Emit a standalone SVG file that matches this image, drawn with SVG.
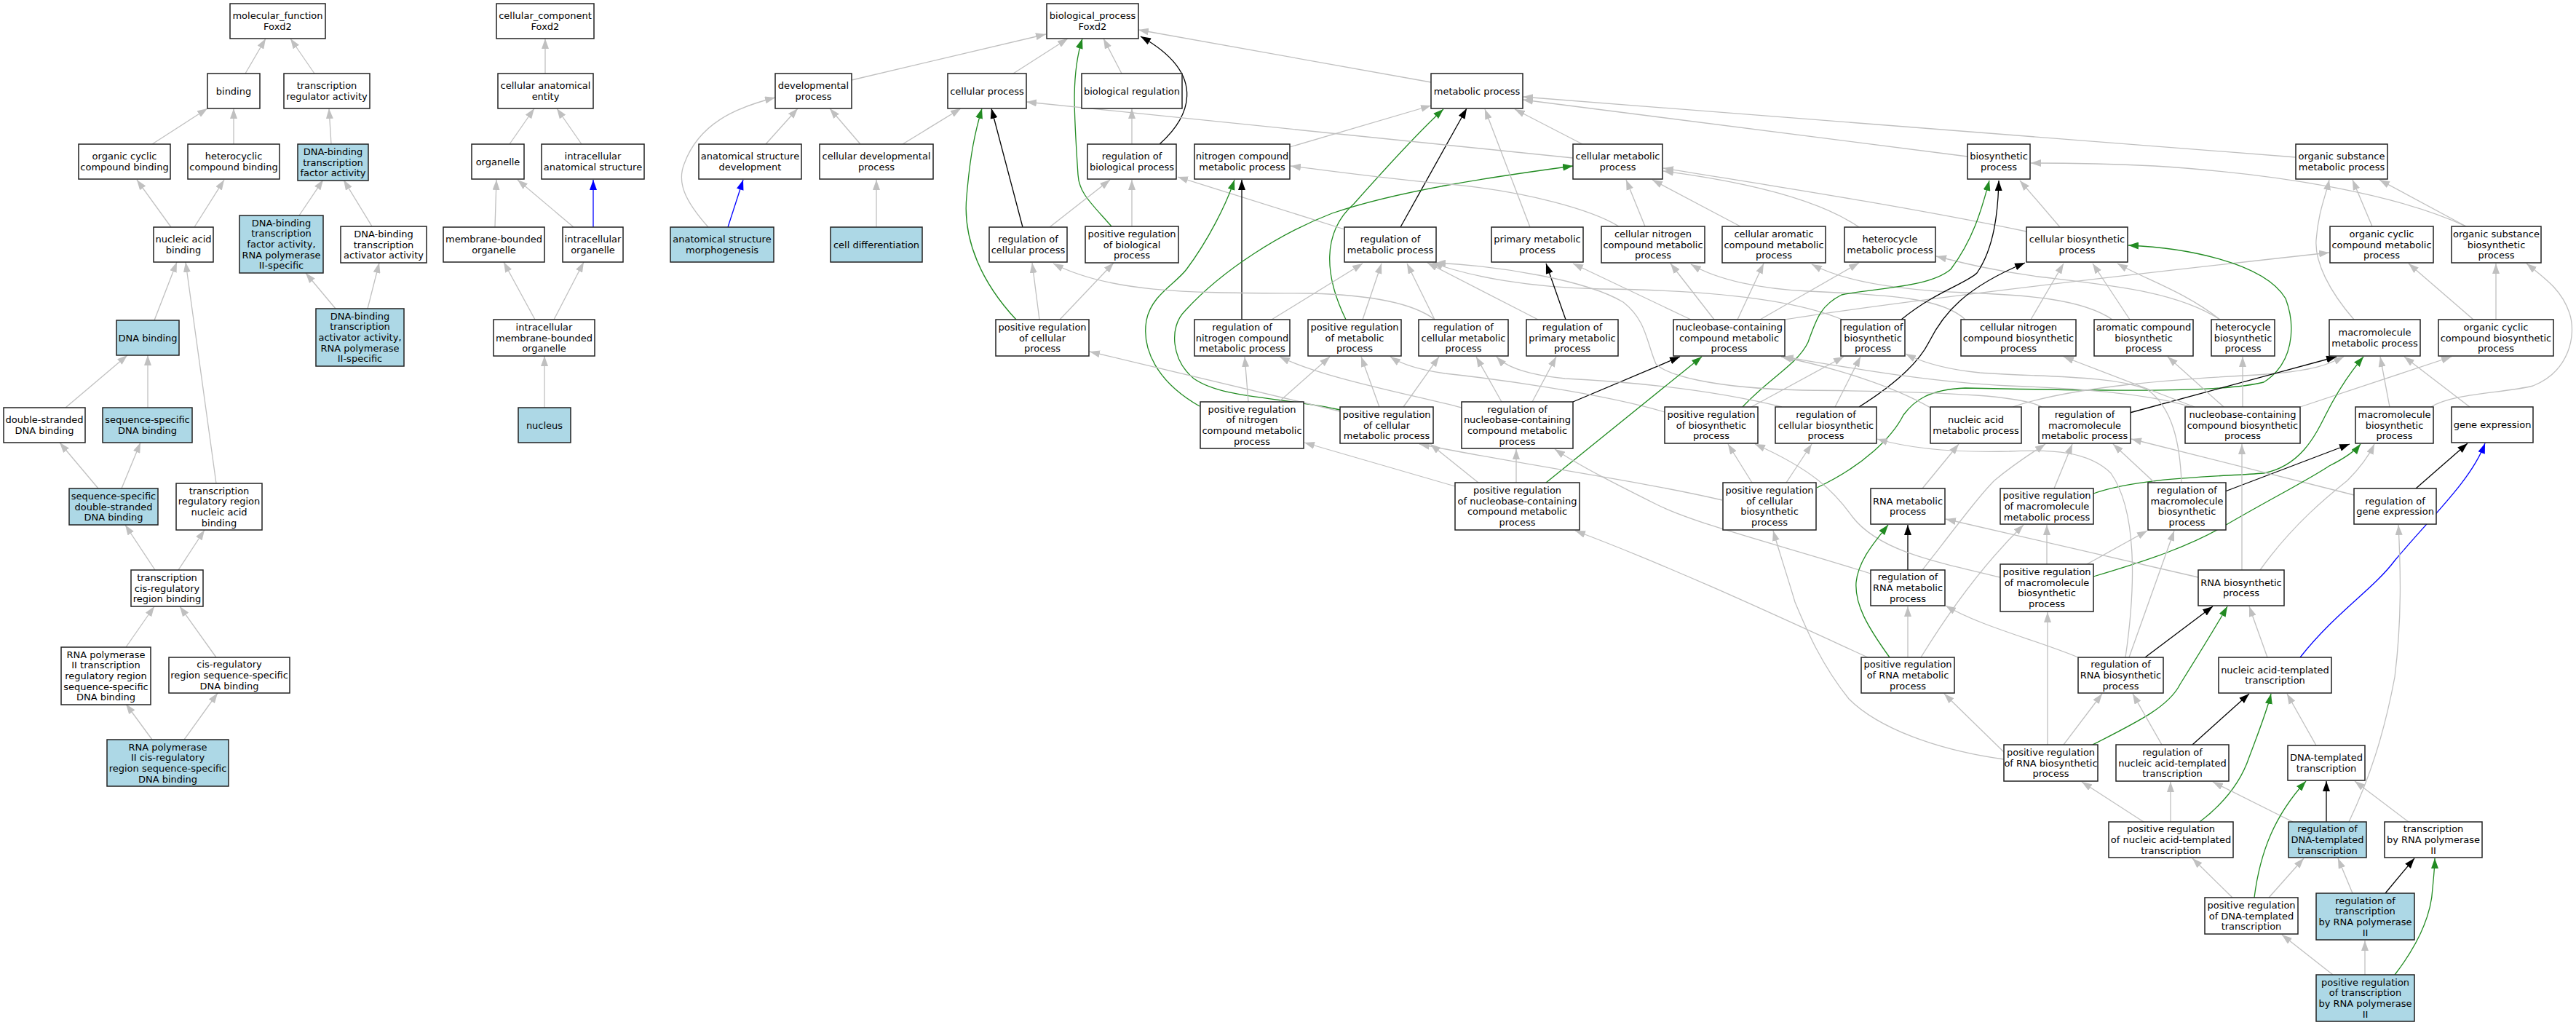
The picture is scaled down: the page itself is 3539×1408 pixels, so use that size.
<svg xmlns="http://www.w3.org/2000/svg" width="3539" height="1408" viewBox="0 0 3539 1408">
<style>
.node rect{fill:#ffffff;stroke:#222222;stroke-width:1.5}
.node.hl rect{fill:#add8e6}
text{font-family:"DejaVu Sans",Verdana,sans-serif;font-size:13px;text-anchor:middle;fill:#000000}
.e{fill:none;stroke-width:1.3}
.g{stroke:#c0c0c0;marker-end:url(#ag)}
.k{stroke:#000000;marker-end:url(#ak)}
.f{stroke:#228b22;marker-end:url(#af)}
.b{stroke:#0000ff;marker-end:url(#ab)}
</style>
<defs>
<marker id="ag" viewBox="0 0 14 10" refX="14" refY="5" markerWidth="14" markerHeight="10" markerUnits="userSpaceOnUse" orient="auto"><path d="M0,0L14,5L0,10z" fill="#c0c0c0"/></marker>
<marker id="ak" viewBox="0 0 14 10" refX="14" refY="5" markerWidth="14" markerHeight="10" markerUnits="userSpaceOnUse" orient="auto"><path d="M0,0L14,5L0,10z" fill="#000000"/></marker>
<marker id="af" viewBox="0 0 14 10" refX="14" refY="5" markerWidth="14" markerHeight="10" markerUnits="userSpaceOnUse" orient="auto"><path d="M0,0L14,5L0,10z" fill="#228b22"/></marker>
<marker id="ab" viewBox="0 0 14 10" refX="14" refY="5" markerWidth="14" markerHeight="10" markerUnits="userSpaceOnUse" orient="auto"><path d="M0,0L14,5L0,10z" fill="#0000ff"/></marker>
</defs>
<rect x="0" y="0" width="3539" height="1408" fill="#ffffff"/>
<g id="edges">
<path class="e g" d="M337,101L365,53"/>
<path class="e g" d="M432,101L399,53"/>
<path class="e g" d="M209,198L285,149"/>
<path class="e g" d="M321,198L321,149"/>
<path class="e g" d="M455,198L452,149"/>
<path class="e g" d="M235,312L188,247"/>
<path class="e g" d="M267,312L308,247"/>
<path class="e g" d="M411,296L444,247"/>
<path class="e g" d="M511,311L472,247"/>
<path class="e g" d="M212,440L243,360"/>
<path class="e g" d="M297,664L255,360"/>
<path class="e g" d="M461,424L420,375"/>
<path class="e g" d="M505,424L521,361"/>
<path class="e g" d="M90,560L175,488"/>
<path class="e g" d="M203,560L203,488"/>
<path class="e g" d="M135,671L82,608"/>
<path class="e g" d="M167,671L193,608"/>
<path class="e g" d="M213,783L172,721"/>
<path class="e g" d="M245,783L281,728"/>
<path class="e g" d="M173,889L212,833"/>
<path class="e g" d="M297,903L247,833"/>
<path class="e g" d="M209,1016L173,967"/>
<path class="e g" d="M253,1016L299,952"/>
<path class="e g" d="M749,101L749,53"/>
<path class="e g" d="M700,198L734,149"/>
<path class="e g" d="M799,198L765,149"/>
<path class="e g" d="M680,312L682,247"/>
<path class="e g" d="M788,312L711,247"/>
<path class="e b" d="M815,312L815,247"/>
<path class="e g" d="M735,439L692,360"/>
<path class="e g" d="M761,439L802,360"/>
<path class="e g" d="M748,560L748,489"/>
<path class="e g" d="M1170,110L1437,47"/>
<path class="e g" d="M1052,198L1096,149"/>
<path class="e g" d="M1182,198L1140,149"/>
<path class="e g" d="M973,312C940,275 930,250 940,225C960,170 1010,148 1065,134"/>
<path class="e b" d="M1000,312L1021,247"/>
<path class="e g" d="M1204,312L1204,247"/>
<path class="e g" d="M1392,101L1467,53"/>
<path class="e g" d="M1240,198L1320,149"/>
<path class="e g" d="M1541,101L1516,53"/>
<path class="e g" d="M1966,113L1564,41"/>
<path class="e k" d="M1593,198C1630,165 1665,105 1567,50"/>
<path class="e g" d="M1555,198L1555,149"/>
<path class="e f" d="M1527,311C1500,280 1482,265 1481,240C1475,150 1472,100 1487,53"/>
<path class="e g" d="M1555,311L1555,247"/>
<path class="e k" d="M1405,312L1362,149"/>
<path class="e g" d="M1442,312L1525,247"/>
<path class="e f" d="M1396,439C1350,390 1322,330 1328,270C1333,210 1340,180 1349,149"/>
<path class="e g" d="M1428,439L1418,361"/>
<path class="e g" d="M1456,439L1530,361"/>
<path class="e g" d="M1772,202L1966,145"/>
<path class="e f" d="M1849,439C1820,380 1815,320 1860,280C1900,235 1950,180 1983,150"/>
<path class="e k" d="M1924,312L2015,149"/>
<path class="e g" d="M1847,315L1618,243"/>
<path class="e g" d="M2161,217L1410,140"/>
<path class="e k" d="M1706,439L1706,247"/>
<path class="e f" d="M1648,558C1590,525 1568,480 1575,440C1582,405 1615,390 1630,370C1660,330 1685,280 1696,247"/>
<path class="e f" d="M1841,563C1760,545 1680,548 1640,520C1610,495 1605,450 1628,427C1680,370 1760,320 1830,293C1920,262 2050,243 2161,228"/>
<path class="e g" d="M1747,439L1872,362"/>
<path class="e g" d="M1872,439L1898,362"/>
<path class="e g" d="M1971,439L1933,362"/>
<path class="e g" d="M2113,439L1961,361"/>
<path class="e g" d="M2531,439C2450,405 2300,398 2200,397C2100,395 2020,380 1968,361"/>
<path class="e g" d="M2224,311C2190,290 2100,262 1980,252C1900,245 1830,235 1773,228"/>
<path class="e g" d="M1971,439C1940,415 1880,405 1800,403C1650,402 1530,405 1447,362"/>
<path class="e g" d="M2102,312L2040,150"/>
<path class="e g" d="M2174,198L2081,150"/>
<path class="e g" d="M3154,216L2092,133"/>
<path class="e g" d="M2703,215L2092,137"/>
<path class="e g" d="M2260,311L2234,247"/>
<path class="e g" d="M2391,311L2270,247"/>
<path class="e g" d="M2554,312C2500,275 2400,250 2285,235"/>
<path class="e g" d="M2784,318C2600,280 2400,250 2285,231"/>
<path class="e k" d="M2151,439L2124,362"/>
<path class="e g" d="M2323,439L2161,362"/>
<path class="e g" d="M2355,439L2295,362"/>
<path class="e g" d="M2387,439L2423,362"/>
<path class="e g" d="M2418,439L2554,361"/>
<path class="e g" d="M2452,439C2600,415 2900,380 3200,347"/>
<path class="e g" d="M2700,439C2670,410 2600,405 2484,400C2420,397 2360,385 2323,363"/>
<path class="e g" d="M2902,439C2860,410 2780,405 2700,402C2600,398 2530,385 2489,363"/>
<path class="e g" d="M3050,439C2990,400 2900,392 2800,380C2740,372 2700,362 2660,352"/>
<path class="e k" d="M2612,439C2660,400 2700,390 2716,375C2740,340 2745,290 2746,248"/>
<path class="e f" d="M2394,559C2430,520 2470,500 2484,470C2495,440 2500,420 2530,405C2580,395 2650,395 2680,370C2710,330 2722,290 2733,248"/>
<path class="e k" d="M2554,559C2600,530 2635,500 2650,470C2670,430 2700,395 2782,361"/>
<path class="e g" d="M2830,312L2775,248"/>
<path class="e g" d="M3388,311C3300,270 3150,240 2960,228C2880,224 2830,224 2790,224"/>
<path class="e g" d="M2790,439L2835,362"/>
<path class="e g" d="M2926,439L2875,362"/>
<path class="e g" d="M3050,439C3000,400 2950,385 2909,362"/>
<path class="e f" d="M2496,670C2560,640 2600,600 2615,570C2630,550 2650,535 2700,533C2900,537 3050,540 3110,525C3150,500 3155,450 3140,410C3110,360 3000,340 2924,337"/>
<path class="e g" d="M3259,311L3232,247"/>
<path class="e g" d="M3388,311L3269,247"/>
<path class="e g" d="M3234,439C3200,400 3180,360 3182,330C3185,290 3195,270 3200,247"/>
<path class="e g" d="M3398,439L3309,362"/>
<path class="e g" d="M3429,439L3429,362"/>
<path class="e g" d="M3340,559C3370,540 3440,540 3480,530C3530,510 3540,460 3530,430C3520,400 3500,385 3471,362"/>
<path class="e g" d="M1895,559L1870,490"/>
<path class="e g" d="M1928,559L1977,490"/>
<path class="e g" d="M1841,565L1497,483"/>
<path class="e g" d="M1715,552L1710,490"/>
<path class="e g" d="M1757,552L1827,490"/>
<path class="e k" d="M2161,552L2308,490"/>
<path class="e g" d="M2063,552L2028,490"/>
<path class="e g" d="M2105,552L2138,490"/>
<path class="e g" d="M2008,560C1930,540 1820,520 1758,490"/>
<path class="e g" d="M2287,566C2200,540 2050,520 1985,513C1950,508 1925,500 1910,490"/>
<path class="e g" d="M2406,559L2533,490"/>
<path class="e g" d="M2521,559L2556,490"/>
<path class="e g" d="M2448,559C2350,535 2250,525 2150,520C2100,515 2070,505 2056,490"/>
<path class="e g" d="M2652,560C2600,530 2520,505 2447,490"/>
<path class="e g" d="M2765,559C2850,530 3000,520 3100,515C3180,510 3200,500 3220,490"/>
<path class="e k" d="M2926,567L3210,490"/>
<path class="e g" d="M2805,559C2780,545 2700,538 2476,536C2350,533 2290,515 2275,500C2262,470 2262,440 2230,415C2180,385 2060,365 1972,361"/>
<path class="e g" d="M3010,559C2950,540 2850,533 2760,530C2650,525 2540,505 2450,490"/>
<path class="e g" d="M3015,559L2835,490"/>
<path class="e g" d="M3055,559L2978,490"/>
<path class="e g" d="M3081,559L3081,490"/>
<path class="e g" d="M3160,559L3368,490"/>
<path class="e g" d="M3283,559L3270,490"/>
<path class="e g" d="M3393,559L3303,490"/>
<path class="e g" d="M1999,668L1792,608"/>
<path class="e g" d="M2031,663L1965,610"/>
<path class="e g" d="M2083,663L2083,617"/>
<path class="e f" d="M2124,663L2338,490"/>
<path class="e g" d="M2366,687C2250,660 2100,640 1950,610"/>
<path class="e g" d="M2407,663L2374,610"/>
<path class="e g" d="M2454,663L2489,610"/>
<path class="e g" d="M2641,671L2691,610"/>
<path class="e f" d="M2876,678C2940,655 3050,655 3110,650C3160,640 3180,600 3195,570C3210,540 3230,510 3247,490"/>
<path class="e g" d="M2822,671L2847,610"/>
<path class="e g" d="M2960,663L2903,610"/>
<path class="e k" d="M3057,675L3228,610"/>
<path class="e g" d="M2997,663C2995,610 2985,560 2950,535C2900,515 2800,518 2720,512C2680,508 2645,500 2618,486"/>
<path class="e g" d="M3234,680L2928,603"/>
<path class="e k" d="M3319,671L3390,609"/>
<path class="e k" d="M2621,783L2621,721"/>
<path class="e g" d="M2570,788C2450,750 2330,720 2276,693C2220,665 2170,640 2136,617"/>
<path class="e g" d="M2641,783C2690,720 2720,680 2740,660C2770,635 2795,620 2810,610"/>
<path class="e g" d="M2812,775L2812,721"/>
<path class="e g" d="M2867,775L2950,729"/>
<path class="e f" d="M2876,792C2950,770 3010,750 3060,720C3120,685 3170,660 3200,640C3220,630 3235,620 3243,610"/>
<path class="e g" d="M2748,793C2650,770 2580,755 2545,710C2520,675 2490,645 2411,610"/>
<path class="e g" d="M3020,793L2673,713"/>
<path class="e g" d="M3080,783L3080,610"/>
<path class="e g" d="M3105,783C3150,720 3200,680 3225,660C3245,640 3255,625 3262,610"/>
<path class="e f" d="M2596,903C2565,860 2548,830 2550,800C2553,770 2575,745 2594,721"/>
<path class="e g" d="M2566,903C2450,850 2300,780 2164,729"/>
<path class="e g" d="M2621,903L2621,833"/>
<path class="e g" d="M2639,903C2690,820 2740,760 2780,721"/>
<path class="e g" d="M2855,903C2800,880 2720,860 2673,832"/>
<path class="e k" d="M2947,903L3040,833"/>
<path class="e g" d="M2925,903L2987,729"/>
<path class="e g" d="M2920,903C2935,800 2935,700 2900,650C2870,620 2820,617 2760,620C2680,622 2620,615 2579,603"/>
<path class="e g" d="M3115,903L3090,833"/>
<path class="e b" d="M3160,903C3210,840 3260,810 3290,770C3340,710 3395,660 3414,609"/>
<path class="e g" d="M2813,1023L2813,841"/>
<path class="e g" d="M2755,1035L2671,953"/>
<path class="e g" d="M2753,1043C2660,1030 2580,1000 2540,960C2500,910 2480,860 2466,827C2455,790 2445,760 2436,729"/>
<path class="e g" d="M2835,1023L2888,953"/>
<path class="e f" d="M2875,1023C2940,990 2980,970 2995,940C3020,900 3045,860 3060,833"/>
<path class="e g" d="M2970,1023L2930,953"/>
<path class="e k" d="M3012,1023L3090,953"/>
<path class="e g" d="M3182,1024L3142,953"/>
<path class="e g" d="M2945,1129L2860,1074"/>
<path class="e g" d="M2982,1129L2982,1074"/>
<path class="e f" d="M3022,1129C3060,1100 3080,1070 3090,1040C3105,1000 3115,975 3120,953"/>
<path class="e g" d="M3150,1129L3040,1074"/>
<path class="e k" d="M3196,1129L3196,1073"/>
<path class="e g" d="M3227,1129C3255,1070 3275,1010 3290,930C3300,850 3298,780 3295,721"/>
<path class="e g" d="M3309,1129L3235,1073"/>
<path class="e g" d="M3067,1233L3012,1179"/>
<path class="e g" d="M3117,1233L3165,1179"/>
<path class="e f" d="M3097,1233C3105,1170 3125,1120 3168,1073"/>
<path class="e k" d="M3277,1227L3317,1179"/>
<path class="e g" d="M3232,1227L3212,1179"/>
<path class="e g" d="M3205,1339L3135,1284"/>
<path class="e g" d="M3249,1339L3249,1292"/>
<path class="e f" d="M3290,1339C3320,1300 3340,1260 3342,1220C3344,1200 3345,1190 3345,1179"/>
</g>
<g id="n_mf" class="node"><rect x="316" y="5" width="131" height="48"/><text x="381.5" y="26.2">molecular_function<tspan x="381.5" dy="14.7">Foxd2</tspan></text></g>
<g id="n_binding" class="node"><rect x="285" y="101" width="72" height="48"/><text x="321" y="129.5">binding</text></g>
<g id="n_tra" class="node"><rect x="390" y="101" width="118" height="48"/><text x="449" y="122.2">transcription<tspan x="449" dy="14.7">regulator activity</tspan></text></g>
<g id="n_occb" class="node"><rect x="108" y="198" width="126" height="48"/><text x="171" y="219.2">organic cyclic<tspan x="171" dy="14.7">compound binding</tspan></text></g>
<g id="n_hcb" class="node"><rect x="258" y="198" width="126" height="48"/><text x="321" y="219.2">heterocyclic<tspan x="321" dy="14.7">compound binding</tspan></text></g>
<g id="n_dbtfa" class="node hl"><rect x="409" y="198" width="97" height="50"/><text x="457.5" y="212.8">DNA-binding<tspan x="457.5" dy="14.7">transcription</tspan><tspan x="457.5" dy="14.7">factor activity</tspan></text></g>
<g id="n_nab" class="node"><rect x="211" y="312" width="82" height="48"/><text x="252" y="333.2">nucleic acid<tspan x="252" dy="14.7">binding</tspan></text></g>
<g id="n_dbtf2" class="node hl"><rect x="329" y="296" width="115" height="79"/><text x="386.5" y="310.6">DNA-binding<tspan x="386.5" dy="14.7">transcription</tspan><tspan x="386.5" dy="14.7">factor activity,</tspan><tspan x="386.5" dy="14.7">RNA polymerase</tspan><tspan x="386.5" dy="14.7">II-specific</tspan></text></g>
<g id="n_dbta" class="node"><rect x="468" y="311" width="118" height="50"/><text x="527" y="325.8">DNA-binding<tspan x="527" dy="14.7">transcription</tspan><tspan x="527" dy="14.7">activator activity</tspan></text></g>
<g id="n_dnab" class="node hl"><rect x="160" y="440" width="86" height="48"/><text x="203" y="468.5">DNA binding</text></g>
<g id="n_dbta2" class="node hl"><rect x="434" y="424" width="121" height="79"/><text x="494.5" y="438.6">DNA-binding<tspan x="494.5" dy="14.7">transcription</tspan><tspan x="494.5" dy="14.7">activator activity,</tspan><tspan x="494.5" dy="14.7">RNA polymerase</tspan><tspan x="494.5" dy="14.7">II-specific</tspan></text></g>
<g id="n_dsdb" class="node"><rect x="5" y="560" width="112" height="48"/><text x="61" y="581.2">double-stranded<tspan x="61" dy="14.7">DNA binding</tspan></text></g>
<g id="n_ssdb" class="node hl"><rect x="141" y="560" width="123" height="48"/><text x="202.5" y="581.2">sequence-specific<tspan x="202.5" dy="14.7">DNA binding</tspan></text></g>
<g id="n_ssdsdb" class="node hl"><rect x="95" y="671" width="122" height="50"/><text x="156" y="685.8">sequence-specific<tspan x="156" dy="14.7">double-stranded</tspan><tspan x="156" dy="14.7">DNA binding</tspan></text></g>
<g id="n_trrnab" class="node"><rect x="242" y="664" width="118" height="64"/><text x="301" y="678.5">transcription<tspan x="301" dy="14.7">regulatory region</tspan><tspan x="301" dy="14.7">nucleic acid</tspan><tspan x="301" dy="14.7">binding</tspan></text></g>
<g id="n_tcrrb" class="node"><rect x="180" y="783" width="99" height="50"/><text x="229.5" y="797.8">transcription<tspan x="229.5" dy="14.7">cis-regulatory</tspan><tspan x="229.5" dy="14.7">region binding</tspan></text></g>
<g id="n_rp2trr" class="node"><rect x="84" y="889" width="123" height="79"/><text x="145.5" y="903.6">RNA polymerase<tspan x="145.5" dy="14.7">II transcription</tspan><tspan x="145.5" dy="14.7">regulatory region</tspan><tspan x="145.5" dy="14.7">sequence-specific</tspan><tspan x="145.5" dy="14.7">DNA binding</tspan></text></g>
<g id="n_crrss" class="node"><rect x="232" y="903" width="166" height="49"/><text x="315" y="917.3">cis-regulatory<tspan x="315" dy="14.7">region sequence-specific</tspan><tspan x="315" dy="14.7">DNA binding</tspan></text></g>
<g id="n_rp2crr" class="node hl"><rect x="147" y="1016" width="167" height="64"/><text x="230.5" y="1030.5">RNA polymerase<tspan x="230.5" dy="14.7">II cis-regulatory</tspan><tspan x="230.5" dy="14.7">region sequence-specific</tspan><tspan x="230.5" dy="14.7">DNA binding</tspan></text></g>
<g id="n_cc" class="node"><rect x="682" y="5" width="134" height="48"/><text x="749" y="26.2">cellular_component<tspan x="749" dy="14.7">Foxd2</tspan></text></g>
<g id="n_cae" class="node"><rect x="684" y="101" width="131" height="48"/><text x="749.5" y="122.2">cellular anatomical<tspan x="749.5" dy="14.7">entity</tspan></text></g>
<g id="n_organelle" class="node"><rect x="648" y="198" width="72" height="48"/><text x="684" y="226.5">organelle</text></g>
<g id="n_ias" class="node"><rect x="744" y="198" width="141" height="48"/><text x="814.5" y="219.2">intracellular<tspan x="814.5" dy="14.7">anatomical structure</tspan></text></g>
<g id="n_mbo" class="node"><rect x="609" y="312" width="139" height="48"/><text x="678.5" y="333.2">membrane-bounded<tspan x="678.5" dy="14.7">organelle</tspan></text></g>
<g id="n_io" class="node"><rect x="773" y="312" width="83" height="48"/><text x="814.5" y="333.2">intracellular<tspan x="814.5" dy="14.7">organelle</tspan></text></g>
<g id="n_imbo" class="node"><rect x="678" y="439" width="139" height="50"/><text x="747.5" y="453.8">intracellular<tspan x="747.5" dy="14.7">membrane-bounded</tspan><tspan x="747.5" dy="14.7">organelle</tspan></text></g>
<g id="n_nucleus" class="node hl"><rect x="712" y="560" width="72" height="48"/><text x="748" y="588.5">nucleus</text></g>
<g id="n_bp" class="node"><rect x="1438" y="5" width="126" height="48"/><text x="1501" y="26.2">biological_process<tspan x="1501" dy="14.7">Foxd2</tspan></text></g>
<g id="n_dev" class="node"><rect x="1065" y="101" width="105" height="48"/><text x="1117.5" y="122.2">developmental<tspan x="1117.5" dy="14.7">process</tspan></text></g>
<g id="n_cp" class="node"><rect x="1302" y="101" width="108" height="48"/><text x="1356" y="129.5">cellular process</text></g>
<g id="n_br" class="node"><rect x="1486" y="101" width="138" height="48"/><text x="1555" y="129.5">biological regulation</text></g>
<g id="n_mp" class="node"><rect x="1966" y="101" width="126" height="48"/><text x="2029" y="129.5">metabolic process</text></g>
<g id="n_asd" class="node"><rect x="960" y="198" width="141" height="48"/><text x="1030.5" y="219.2">anatomical structure<tspan x="1030.5" dy="14.7">development</tspan></text></g>
<g id="n_cdp" class="node"><rect x="1126" y="198" width="156" height="48"/><text x="1204" y="219.2">cellular developmental<tspan x="1204" dy="14.7">process</tspan></text></g>
<g id="n_rbp" class="node"><rect x="1494" y="198" width="122" height="48"/><text x="1555" y="219.2">regulation of<tspan x="1555" dy="14.7">biological process</tspan></text></g>
<g id="n_ncmp" class="node"><rect x="1641" y="198" width="131" height="48"/><text x="1706.5" y="219.2">nitrogen compound<tspan x="1706.5" dy="14.7">metabolic process</tspan></text></g>
<g id="n_cmp" class="node"><rect x="2161" y="198" width="123" height="48"/><text x="2222.5" y="219.2">cellular metabolic<tspan x="2222.5" dy="14.7">process</tspan></text></g>
<g id="n_bsp" class="node"><rect x="2703" y="198" width="86" height="48"/><text x="2746" y="219.2">biosynthetic<tspan x="2746" dy="14.7">process</tspan></text></g>
<g id="n_osmp" class="node"><rect x="3154" y="198" width="126" height="48"/><text x="3217" y="219.2">organic substance<tspan x="3217" dy="14.7">metabolic process</tspan></text></g>
<g id="n_asm" class="node hl"><rect x="921" y="312" width="142" height="48"/><text x="992" y="333.2">anatomical structure<tspan x="992" dy="14.7">morphogenesis</tspan></text></g>
<g id="n_celldiff" class="node hl"><rect x="1141" y="312" width="126" height="48"/><text x="1204" y="340.5">cell differentiation</text></g>
<g id="n_rcp" class="node"><rect x="1359" y="312" width="107" height="48"/><text x="1412.5" y="333.2">regulation of<tspan x="1412.5" dy="14.7">cellular process</tspan></text></g>
<g id="n_prbp" class="node"><rect x="1491" y="311" width="128" height="50"/><text x="1555" y="325.8">positive regulation<tspan x="1555" dy="14.7">of biological</tspan><tspan x="1555" dy="14.7">process</tspan></text></g>
<g id="n_rmp" class="node"><rect x="1847" y="312" width="126" height="48"/><text x="1910" y="333.2">regulation of<tspan x="1910" dy="14.7">metabolic process</tspan></text></g>
<g id="n_pmp" class="node"><rect x="2049" y="312" width="126" height="48"/><text x="2112" y="333.2">primary metabolic<tspan x="2112" dy="14.7">process</tspan></text></g>
<g id="n_cncmp" class="node"><rect x="2200" y="311" width="142" height="50"/><text x="2271" y="325.8">cellular nitrogen<tspan x="2271" dy="14.7">compound metabolic</tspan><tspan x="2271" dy="14.7">process</tspan></text></g>
<g id="n_camp" class="node"><rect x="2366" y="311" width="142" height="50"/><text x="2437" y="325.8">cellular aromatic<tspan x="2437" dy="14.7">compound metabolic</tspan><tspan x="2437" dy="14.7">process</tspan></text></g>
<g id="n_hmp" class="node"><rect x="2534" y="312" width="125" height="48"/><text x="2596.5" y="333.2">heterocycle<tspan x="2596.5" dy="14.7">metabolic process</tspan></text></g>
<g id="n_cbp" class="node"><rect x="2784" y="312" width="139" height="48"/><text x="2853.5" y="333.2">cellular biosynthetic<tspan x="2853.5" dy="14.7">process</tspan></text></g>
<g id="n_occmp" class="node"><rect x="3201" y="311" width="142" height="50"/><text x="3272" y="325.8">organic cyclic<tspan x="3272" dy="14.7">compound metabolic</tspan><tspan x="3272" dy="14.7">process</tspan></text></g>
<g id="n_osbp" class="node"><rect x="3368" y="311" width="123" height="50"/><text x="3429.5" y="325.8">organic substance<tspan x="3429.5" dy="14.7">biosynthetic</tspan><tspan x="3429.5" dy="14.7">process</tspan></text></g>
<g id="n_prcp" class="node"><rect x="1368" y="439" width="128" height="50"/><text x="1432" y="453.8">positive regulation<tspan x="1432" dy="14.7">of cellular</tspan><tspan x="1432" dy="14.7">process</tspan></text></g>
<g id="n_rncmp" class="node"><rect x="1641" y="439" width="131" height="50"/><text x="1706.5" y="453.8">regulation of<tspan x="1706.5" dy="14.7">nitrogen compound</tspan><tspan x="1706.5" dy="14.7">metabolic process</tspan></text></g>
<g id="n_prmp" class="node"><rect x="1797" y="439" width="128" height="50"/><text x="1861" y="453.8">positive regulation<tspan x="1861" dy="14.7">of metabolic</tspan><tspan x="1861" dy="14.7">process</tspan></text></g>
<g id="n_rcmp" class="node"><rect x="1949" y="439" width="123" height="50"/><text x="2010.5" y="453.8">regulation of<tspan x="2010.5" dy="14.7">cellular metabolic</tspan><tspan x="2010.5" dy="14.7">process</tspan></text></g>
<g id="n_rpmp" class="node"><rect x="2097" y="439" width="126" height="50"/><text x="2160" y="453.8">regulation of<tspan x="2160" dy="14.7">primary metabolic</tspan><tspan x="2160" dy="14.7">process</tspan></text></g>
<g id="n_nbccmp" class="node"><rect x="2299" y="439" width="153" height="50"/><text x="2375.5" y="453.8">nucleobase-containing<tspan x="2375.5" dy="14.7">compound metabolic</tspan><tspan x="2375.5" dy="14.7">process</tspan></text></g>
<g id="n_rbsp" class="node"><rect x="2529" y="439" width="88" height="50"/><text x="2573" y="453.8">regulation of<tspan x="2573" dy="14.7">biosynthetic</tspan><tspan x="2573" dy="14.7">process</tspan></text></g>
<g id="n_cncbp" class="node"><rect x="2694" y="439" width="158" height="50"/><text x="2773" y="453.8">cellular nitrogen<tspan x="2773" dy="14.7">compound biosynthetic</tspan><tspan x="2773" dy="14.7">process</tspan></text></g>
<g id="n_acbp" class="node"><rect x="2877" y="439" width="136" height="50"/><text x="2945" y="453.8">aromatic compound<tspan x="2945" dy="14.7">biosynthetic</tspan><tspan x="2945" dy="14.7">process</tspan></text></g>
<g id="n_hbp" class="node"><rect x="3038" y="439" width="87" height="50"/><text x="3081.5" y="453.8">heterocycle<tspan x="3081.5" dy="14.7">biosynthetic</tspan><tspan x="3081.5" dy="14.7">process</tspan></text></g>
<g id="n_mmp" class="node"><rect x="3200" y="439" width="125" height="50"/><text x="3262.5" y="461.2">macromolecule<tspan x="3262.5" dy="14.7">metabolic process</tspan></text></g>
<g id="n_occbp" class="node"><rect x="3350" y="439" width="158" height="50"/><text x="3429" y="453.8">organic cyclic<tspan x="3429" dy="14.7">compound biosynthetic</tspan><tspan x="3429" dy="14.7">process</tspan></text></g>
<g id="n_prncmp" class="node"><rect x="1649" y="552" width="142" height="64"/><text x="1720" y="566.5">positive regulation<tspan x="1720" dy="14.7">of nitrogen</tspan><tspan x="1720" dy="14.7">compound metabolic</tspan><tspan x="1720" dy="14.7">process</tspan></text></g>
<g id="n_prcmp" class="node"><rect x="1841" y="559" width="128" height="50"/><text x="1905" y="573.8">positive regulation<tspan x="1905" dy="14.7">of cellular</tspan><tspan x="1905" dy="14.7">metabolic process</tspan></text></g>
<g id="n_rnbccmp" class="node"><rect x="2008" y="552" width="153" height="64"/><text x="2084.5" y="566.5">regulation of<tspan x="2084.5" dy="14.7">nucleobase-containing</tspan><tspan x="2084.5" dy="14.7">compound metabolic</tspan><tspan x="2084.5" dy="14.7">process</tspan></text></g>
<g id="n_prbsp" class="node"><rect x="2287" y="559" width="128" height="50"/><text x="2351" y="573.8">positive regulation<tspan x="2351" dy="14.7">of biosynthetic</tspan><tspan x="2351" dy="14.7">process</tspan></text></g>
<g id="n_rcbp" class="node"><rect x="2439" y="559" width="139" height="50"/><text x="2508.5" y="573.8">regulation of<tspan x="2508.5" dy="14.7">cellular biosynthetic</tspan><tspan x="2508.5" dy="14.7">process</tspan></text></g>
<g id="n_namp" class="node"><rect x="2652" y="559" width="125" height="50"/><text x="2714.5" y="581.2">nucleic acid<tspan x="2714.5" dy="14.7">metabolic process</tspan></text></g>
<g id="n_rmmp" class="node"><rect x="2801" y="559" width="126" height="50"/><text x="2864" y="573.8">regulation of<tspan x="2864" dy="14.7">macromolecule</tspan><tspan x="2864" dy="14.7">metabolic process</tspan></text></g>
<g id="n_nbccbp" class="node"><rect x="3002" y="559" width="158" height="50"/><text x="3081" y="573.8">nucleobase-containing<tspan x="3081" dy="14.7">compound biosynthetic</tspan><tspan x="3081" dy="14.7">process</tspan></text></g>
<g id="n_mbp" class="node"><rect x="3236" y="559" width="107" height="50"/><text x="3289.5" y="573.8">macromolecule<tspan x="3289.5" dy="14.7">biosynthetic</tspan><tspan x="3289.5" dy="14.7">process</tspan></text></g>
<g id="n_ge" class="node"><rect x="3368" y="559" width="112" height="49"/><text x="3424" y="588">gene expression</text></g>
<g id="n_prnbccmp" class="node"><rect x="1999" y="663" width="171" height="65"/><text x="2084.5" y="678">positive regulation<tspan x="2084.5" dy="14.7">of nucleobase-containing</tspan><tspan x="2084.5" dy="14.7">compound metabolic</tspan><tspan x="2084.5" dy="14.7">process</tspan></text></g>
<g id="n_prcbp" class="node"><rect x="2367" y="663" width="128" height="65"/><text x="2431" y="678">positive regulation<tspan x="2431" dy="14.7">of cellular</tspan><tspan x="2431" dy="14.7">biosynthetic</tspan><tspan x="2431" dy="14.7">process</tspan></text></g>
<g id="n_rnamp" class="node"><rect x="2570" y="671" width="102" height="49"/><text x="2621" y="692.7">RNA metabolic<tspan x="2621" dy="14.7">process</tspan></text></g>
<g id="n_prmmp" class="node"><rect x="2748" y="671" width="128" height="49"/><text x="2812" y="685.3">positive regulation<tspan x="2812" dy="14.7">of macromolecule</tspan><tspan x="2812" dy="14.7">metabolic process</tspan></text></g>
<g id="n_rmbp" class="node"><rect x="2951" y="663" width="107" height="65"/><text x="3004.5" y="678">regulation of<tspan x="3004.5" dy="14.7">macromolecule</tspan><tspan x="3004.5" dy="14.7">biosynthetic</tspan><tspan x="3004.5" dy="14.7">process</tspan></text></g>
<g id="n_rge" class="node"><rect x="3234" y="671" width="113" height="49"/><text x="3290.5" y="692.7">regulation of<tspan x="3290.5" dy="14.7">gene expression</tspan></text></g>
<g id="n_rrnamp" class="node"><rect x="2570" y="783" width="102" height="49"/><text x="2621" y="797.3">regulation of<tspan x="2621" dy="14.7">RNA metabolic</tspan><tspan x="2621" dy="14.7">process</tspan></text></g>
<g id="n_prmbp" class="node"><rect x="2748" y="775" width="128" height="65"/><text x="2812" y="790">positive regulation<tspan x="2812" dy="14.7">of macromolecule</tspan><tspan x="2812" dy="14.7">biosynthetic</tspan><tspan x="2812" dy="14.7">process</tspan></text></g>
<g id="n_rnabp" class="node"><rect x="3020" y="783" width="118" height="49"/><text x="3079" y="804.7">RNA biosynthetic<tspan x="3079" dy="14.7">process</tspan></text></g>
<g id="n_prrnamp" class="node"><rect x="2557" y="903" width="128" height="49"/><text x="2621" y="917.3">positive regulation<tspan x="2621" dy="14.7">of RNA metabolic</tspan><tspan x="2621" dy="14.7">process</tspan></text></g>
<g id="n_rrnabp" class="node"><rect x="2855" y="903" width="117" height="49"/><text x="2913.5" y="917.3">regulation of<tspan x="2913.5" dy="14.7">RNA biosynthetic</tspan><tspan x="2913.5" dy="14.7">process</tspan></text></g>
<g id="n_natt" class="node"><rect x="3048" y="903" width="155" height="49"/><text x="3125.5" y="924.7">nucleic acid-templated<tspan x="3125.5" dy="14.7">transcription</tspan></text></g>
<g id="n_prrnabp" class="node"><rect x="2753" y="1023" width="129" height="50"/><text x="2817.5" y="1037.8">positive regulation<tspan x="2817.5" dy="14.7">of RNA biosynthetic</tspan><tspan x="2817.5" dy="14.7">process</tspan></text></g>
<g id="n_rnatt" class="node"><rect x="2907" y="1023" width="155" height="50"/><text x="2984.5" y="1037.8">regulation of<tspan x="2984.5" dy="14.7">nucleic acid-templated</tspan><tspan x="2984.5" dy="14.7">transcription</tspan></text></g>
<g id="n_dtt" class="node"><rect x="3143" y="1024" width="106" height="48"/><text x="3196" y="1045.2">DNA-templated<tspan x="3196" dy="14.7">transcription</tspan></text></g>
<g id="n_prnatt" class="node"><rect x="2897" y="1129" width="171" height="49"/><text x="2982.5" y="1143.3">positive regulation<tspan x="2982.5" dy="14.7">of nucleic acid-templated</tspan><tspan x="2982.5" dy="14.7">transcription</tspan></text></g>
<g id="n_rdtt" class="node hl"><rect x="3144" y="1129" width="107" height="49"/><text x="3197.5" y="1143.3">regulation of<tspan x="3197.5" dy="14.7">DNA-templated</tspan><tspan x="3197.5" dy="14.7">transcription</tspan></text></g>
<g id="n_trp2" class="node"><rect x="3276" y="1129" width="134" height="49"/><text x="3343" y="1143.3">transcription<tspan x="3343" dy="14.7">by RNA polymerase</tspan><tspan x="3343" dy="14.7">II</tspan></text></g>
<g id="n_prdtt" class="node"><rect x="3029" y="1233" width="128" height="50"/><text x="3093" y="1247.8">positive regulation<tspan x="3093" dy="14.7">of DNA-templated</tspan><tspan x="3093" dy="14.7">transcription</tspan></text></g>
<g id="n_rtrp2" class="node hl"><rect x="3182" y="1227" width="135" height="64"/><text x="3249.5" y="1241.5">regulation of<tspan x="3249.5" dy="14.7">transcription</tspan><tspan x="3249.5" dy="14.7">by RNA polymerase</tspan><tspan x="3249.5" dy="14.7">II</tspan></text></g>
<g id="n_prtrp2" class="node hl"><rect x="3182" y="1339" width="135" height="64"/><text x="3249.5" y="1353.5">positive regulation<tspan x="3249.5" dy="14.7">of transcription</tspan><tspan x="3249.5" dy="14.7">by RNA polymerase</tspan><tspan x="3249.5" dy="14.7">II</tspan></text></g>
</svg>
